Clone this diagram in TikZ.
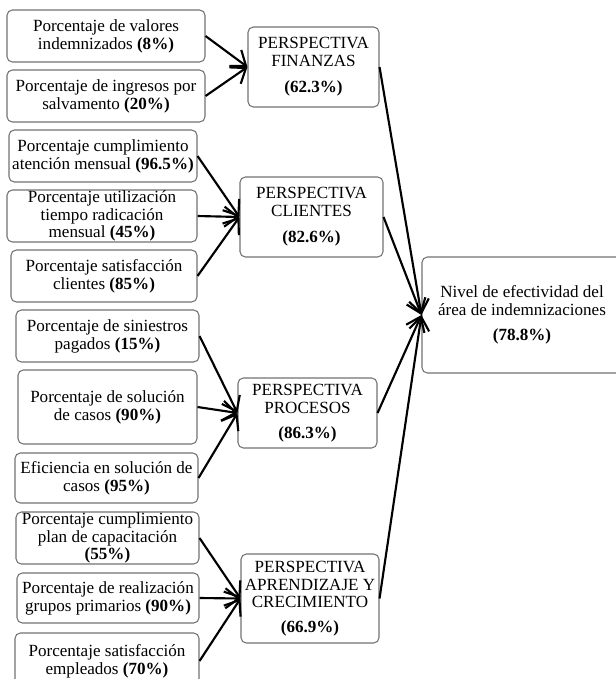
\documentclass[tikz,border=0pt]{standalone}
\usepackage{fontspec}
\setmainfont{Liberation Serif}
\usetikzlibrary{arrows.meta}
\begin{document}
\begin{tikzpicture}[x=0.75pt,y=-0.75pt,
  box/.style={draw=black!55,line width=0.8pt,rounded corners=4pt,align=center,inner sep=0pt,
    font=\fontsize{12.8}{13.4}\selectfont},
  sz/.style 2 args={minimum width=0.75*#1,minimum height=0.75*#2},
  conn/.style={line width=1.6pt,-{Straight Barb[length=10pt,width=15pt,line width=1.6pt]}}]
\useasboundingbox[fill=white] (0,0) rectangle (616,679);
% left boxes
\node[box,sz={198}{52}] (a1) at (106,36) {Porcentaje de valores\\indemnizados \textbf{(8\%)}};
\node[box,sz={198}{52}] (a2) at (106,96) {Porcentaje de ingresos por\\salvamento \textbf{(20\%)}};
\node[box,sz={188}{52}] (b1) at (103,156) {Porcentaje cumplimiento\\atención mensual \textbf{(96.5\%)}};
\node[box,sz={190}{52}] (b2) at (102,216) {Porcentaje utilización\\tiempo radicación\\mensual \textbf{(45\%)}};
\node[box,sz={186}{52}] (b3) at (104,276) {Porcentaje satisfacción\\clientes \textbf{(85\%)}};
\node[box,sz={183}{52}] (c1) at (107.5,336) {Porcentaje de siniestros\\pagados \textbf{(15\%)}};
\node[box,sz={179}{74}] (c2) at (107.5,407) {Porcentaje de solución\\de casos \textbf{(90\%)}};
\node[box,sz={183}{50}] (c3) at (106.5,478) {Eficiencia en solución de\\casos \textbf{(95\%)}};
\node[box,sz={183}{52}] (d1) at (107.5,538) {Porcentaje cumplimiento\\plan de capacitación\\\textbf{(55\%)}};
\node[box,sz={182}{50}] (d2) at (108,598) {Porcentaje de realización\\grupos primarios \textbf{(90\%)}};
\node[box,sz={184}{56}] (d3) at (107,661) {Porcentaje satisfacción\\empleados \textbf{(70\%)}};
% perspective boxes
\node[box,sz={131}{80}] (pf) at (313.5,67) {PERSPECTIVA\\FINANZAS\\[6pt]\textbf{(62.3\%)}};
\node[box,sz={143}{80}] (pc) at (311.5,217) {PERSPECTIVA\\CLIENTES\\[6pt]\textbf{(82.6\%)}};
\node[box,sz={139}{70}] (pp) at (307.5,413) {PERSPECTIVA\\PROCESOS\\[5pt]\textbf{(86.3\%)}};
\node[box,sz={138}{89}] (pa) at (310,598.5) {PERSPECTIVA\\APRENDIZAJE Y\\CRECIMIENTO\\[5pt]\textbf{(66.9\%)}};
\node[box,sz={200}{116}] (nv) at (522,315) {Nivel de efectividad del\\área de indemnizaciones\\[5pt]\textbf{(78.8\%)}};
% connectors
\foreach \s in {a1,a2} \draw[conn] (\s.east) -- (pf.west);
\foreach \s in {b1,b2,b3} \draw[conn] (\s.east) -- (pc.west);
\foreach \s in {c1,c2,c3} \draw[conn] (\s.east) -- (pp.west);
\foreach \s in {d1,d2,d3} \draw[conn] (\s.east) -- (pa.west);
\foreach \s in {pf,pc,pp,pa} \draw[conn] (\s.east) -- (nv.west);
\end{tikzpicture}
\end{document}
